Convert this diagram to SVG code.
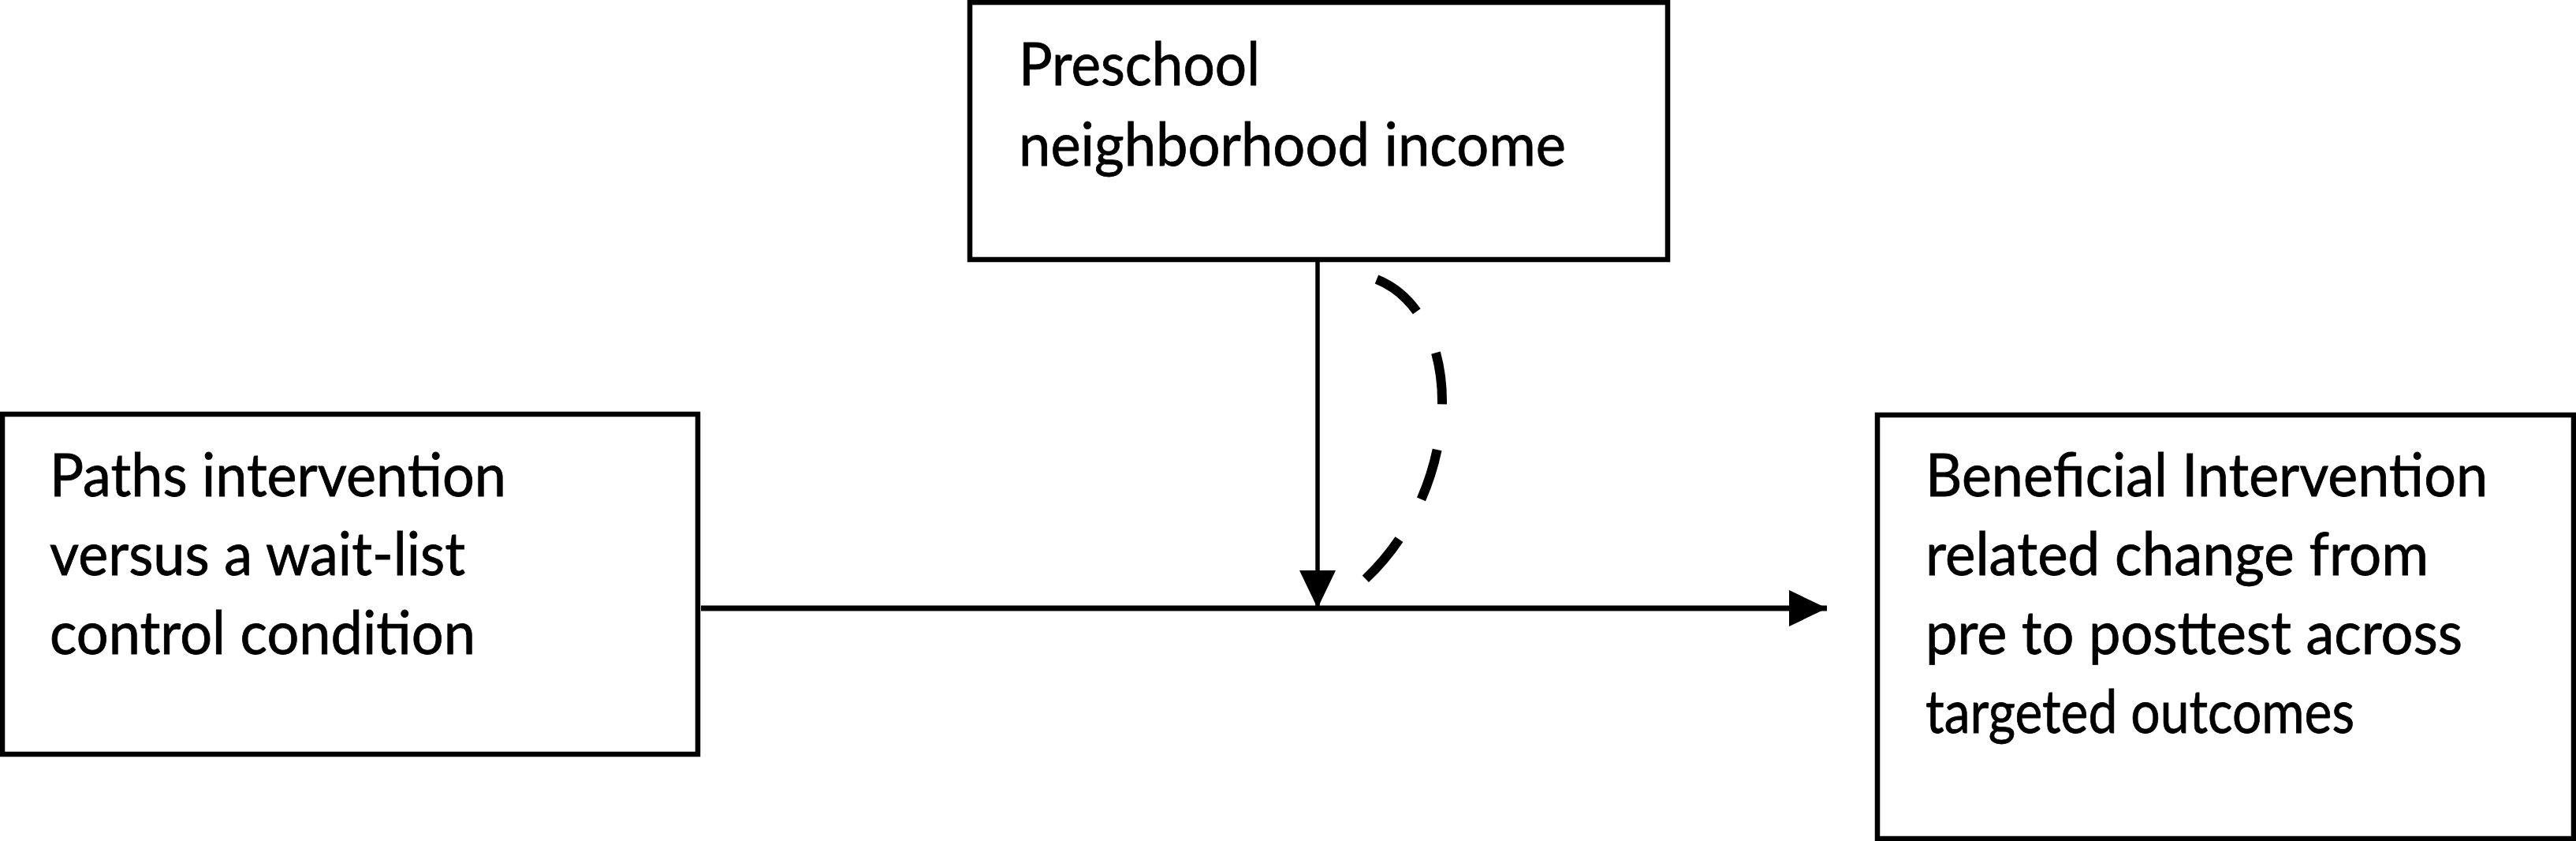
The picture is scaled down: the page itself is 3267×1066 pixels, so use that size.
<svg xmlns="http://www.w3.org/2000/svg" width="3267" height="1066" viewBox="0 0 3267 1066">
<style>
.box{fill:#fff;stroke:#000;stroke-width:6.5}
.lbl{font-family:Lato,"Open Sans","Liberation Sans",sans-serif;font-size:75px;fill:#000;stroke:#000;stroke-width:0.8}
.conn{fill:none;stroke:#000}
</style>
<defs>
<marker id="ah" markerUnits="userSpaceOnUse" markerWidth="50" markerHeight="46" refX="48" refY="23" orient="auto">
<path d="M0,0 L48,23 L0,46 Z" fill="#000"/>
</marker>
</defs>
<rect width="3267" height="1066" fill="#fff"/>
<g id="connectors">
<line class="conn" x1="889" y1="771" x2="2317" y2="771" stroke-width="7" marker-end="url(#ah)"/>
<line class="conn" x1="1671" y1="330" x2="1671" y2="771" stroke-width="5.5" marker-end="url(#ah)"/>
<path class="conn" d="M1746,354 C1860,400 1860,620 1725,740" stroke-width="12" stroke-dasharray="66,58"/>
</g>
<g id="node-moderator">
<rect class="box" x="1230" y="3" width="885" height="326"/>
<text class="lbl" x="1292" y="108" textLength="306" lengthAdjust="spacingAndGlyphs">Preschool</text>
<text class="lbl" x="1292" y="210" textLength="694" lengthAdjust="spacingAndGlyphs">neighborhood income</text>
</g>
<g id="node-predictor">
<rect class="box" x="3" y="525" width="882" height="431"/>
<text class="lbl" x="63" y="629" textLength="579" lengthAdjust="spacingAndGlyphs">Paths intervention</text>
<text class="lbl" x="63" y="729" textLength="527" lengthAdjust="spacingAndGlyphs">versus a wait-list</text>
<text class="lbl" x="63" y="829" textLength="540" lengthAdjust="spacingAndGlyphs">control condition</text>
</g>
<g id="node-outcome">
<rect class="box" x="2381" y="526" width="883" height="537"/>
<text class="lbl" x="2442" y="629" textLength="713" lengthAdjust="spacingAndGlyphs">Beneficial Intervention</text>
<text class="lbl" x="2442" y="729" textLength="638" lengthAdjust="spacingAndGlyphs">related change from</text>
<text class="lbl" x="2442" y="829" textLength="681" lengthAdjust="spacingAndGlyphs">pre to posttest across</text>
<text class="lbl" x="2442" y="929" textLength="544" lengthAdjust="spacingAndGlyphs">targeted outcomes</text>
</g>
</svg>
